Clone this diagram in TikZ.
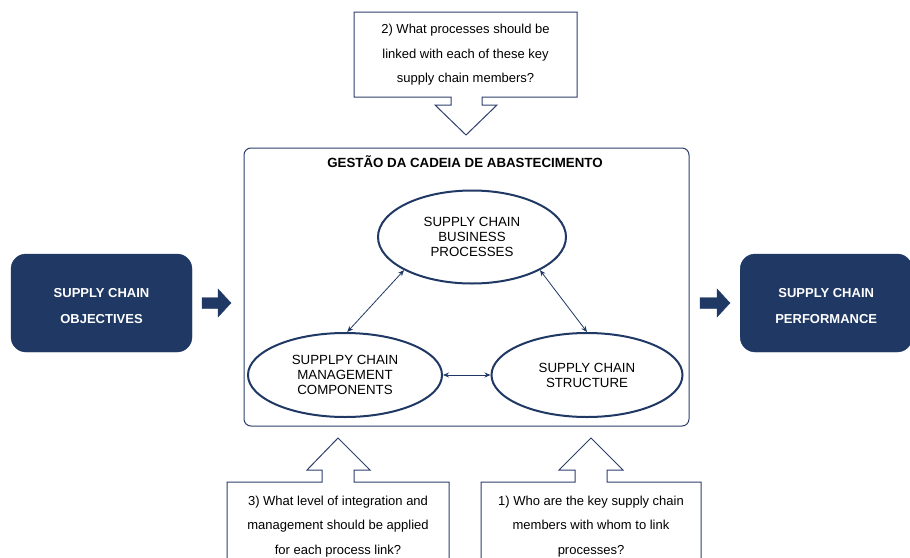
\documentclass[tikz,border=0pt]{standalone}
\usepackage{fontspec}
\setmainfont{Liberation Sans}
\usetikzlibrary{shapes.geometric,arrows.meta}
\definecolor{navy}{HTML}{1F3864}
\definecolor{edge}{HTML}{2E3F6E}
\tikzset{
  ell/.style={ellipse, draw=navy, line width=2pt, inner sep=0pt, align=center, font=\fontsize{13.3}{15}\selectfont},
  darkbox/.style={draw=navy, fill=navy, rounded corners=15pt, text=white, align=center, font=\bfseries\fontsize{13}{26}\selectfont},
  callout/.style={draw=edge, line width=1pt, fill=white},
  qtext/.style={align=center, font=\fontsize{13}{24.5}\selectfont},
  link/.style={{Stealth[length=6pt,width=5pt]}-{Stealth[length=6pt,width=5pt]}, draw=navy, line width=0.8pt},
  blockarrow/.style={fill=navy, draw=navy}
}
\begin{document}
\begin{tikzpicture}[x=1pt,y=-1pt]
\useasboundingbox (0,0) rectangle (910,557);
\clip (0,0) rectangle (910,557);
\fill[white] (0,0) rectangle (910,557);

% main box
\draw[edge, line width=1pt, rounded corners=7pt] (244,148) rectangle (689,426);
\node[font=\bfseries\fontsize{13.3}{15}\selectfont] (title) at (465,162) {GESTÃO DA CADEIA DE ABASTECIMENTO};

% ellipses
\node[ell, minimum width=188pt, minimum height=93pt] (bp) at (472,237) {SUPPLY CHAIN\\BUSINESS\\PROCESSES};
\node[ell, minimum width=194pt, minimum height=84pt] (mc) at (345,375) {SUPPLPY CHAIN\\MANAGEMENT\\COMPONENTS};
\node[ell, minimum width=191pt, minimum height=84pt] (st) at (587,375) {SUPPLY CHAIN\\STRUCTURE};

\draw[link] (bp.206) -- (mc.87);
\draw[link] (bp.334) -- (st.90);
\draw[link] (mc.east) -- (st.west);

% side boxes
\node[darkbox, minimum width=181pt, minimum height=98pt] (obj) at (101.5,303) {\rule{0pt}{15pt}SUPPLY CHAIN\\OBJECTIVES};
\node[darkbox, minimum width=172pt, minimum height=98pt, anchor=west] (perf) at (740,303) {\rule{0pt}{15pt}SUPPLY CHAIN\\PERFORMANCE};

% block arrows
\fill[blockarrow] (202,297.5) -- (218,297.5) -- (218,289) -- (231,303) -- (218,317) -- (218,308.5) -- (202,308.5) -- cycle;
\fill[blockarrow] (700,297.5) -- (717,297.5) -- (717,289) -- (730,303) -- (717,317) -- (717,308.5) -- (700,308.5) -- cycle;

% top callout
\draw[callout] (354,12) -- (577,12) -- (577,97) -- (482,97) -- (482,105) -- (497,105) -- (466,135) -- (435,105) -- (451,105) -- (451,97) -- (354,97) -- cycle;
\node[qtext] (q2) at (465.5,55) {2) What processes should be\\linked with each of these key\\supply chain members?};

% bottom left callout
\draw[callout] (227,570) -- (227,482) -- (322,482) -- (322,470) -- (307,470) -- (338,438) -- (370,470) -- (354,470) -- (354,482) -- (449,482) -- (449,570);
\node[qtext] (q3) at (338,526.5) {3) What level of integration and\\management should be applied\\for each process link?};

% bottom right callout
\draw[callout] (481,570) -- (481,482) -- (575,482) -- (575,470) -- (559,470) -- (591,438) -- (623,470) -- (607,470) -- (607,482) -- (701,482) -- (701,570);
\node[qtext] (q1) at (591,526.5) {1) Who are the key supply chain\\members with whom to link\\processes?};
\end{tikzpicture}
\end{document}
